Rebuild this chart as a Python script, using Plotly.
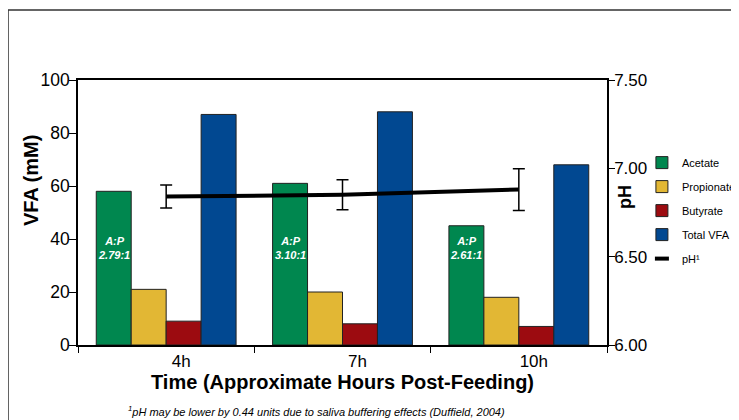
import plotly.graph_objects as go

# ---- data ----
times = ["4h", "7h", "10h"]
acetate = [58, 61, 45]
propionate = [21, 20, 18]
butyrate = [9, 8, 7]
total_vfa = [87, 88, 68]
ph_values = [6.84, 6.85, 6.88]
ph_err = [0.065, 0.085, 0.118]
ap_ratio = ["2.79:1", "3.10:1", "2.61:1"]

series_names = ["Acetate", "Propionate", "Butyrate", "Total VFA"]
series_vals = [acetate, propionate, butyrate, total_vfa]
colors = ["#00874f", "#e2b734", "#9c0b10", "#014891"]

FONT = "Liberation Sans, Arial, Helvetica, sans-serif"
BARGAP = 0.207

fig = go.Figure()
for i, (name, vals, col) in enumerate(zip(series_names, series_vals, colors)):
    fig.add_trace(go.Bar(
        x=times, y=vals, name=name, legendgroup=name,
        marker=dict(color=col, line=dict(color="#222222", width=1)),
        yaxis="y",
    ))

fig.add_trace(go.Scatter(
    x=times, y=ph_values, yaxis="y2", mode="lines",
    line=dict(color="black", width=4),
    error_y=dict(type="data", array=ph_err, color="black", thickness=1.5, width=6),
    showlegend=False, name="pH",
))
# legend proxy for pH (short dash)
fig.add_trace(go.Scatter(
    x=[None], y=[None], yaxis="y2", mode="markers", name="pH¹", legendgroup="ph",
    marker=dict(symbol="line-ew", size=10, line=dict(color="black", width=4)),
))

# A:P annotations inside acetate bars
w = (1 - BARGAP) / 4
for i, r in enumerate(ap_ratio):
    fig.add_annotation(
        x=i - 1.5 * w, y=36.5, xref="x", yref="y",
        text="<b><i>A:P<br>" + r + "</i></b>", showarrow=False,
        font=dict(family=FONT, size=11, color="white"), align="center",
    )

# axis titles
fig.add_annotation(x=-0.09, y=0.62, xref="paper", yref="paper", xanchor="center", yanchor="middle",
                   text="<b>VFA (mM)</b>", textangle=-90, showarrow=False,
                   font=dict(family=FONT, size=20, color="black"))
fig.add_annotation(x=1.034, y=0.558, xref="paper", yref="paper", xanchor="center", yanchor="middle",
                   text="<b>pH</b>", textangle=-90, showarrow=False,
                   font=dict(family=FONT, size=18, color="black"))
fig.add_annotation(x=0.5, y=-0.138, xref="paper", yref="paper", xanchor="center", yanchor="middle",
                   text="<b>Time (Approximate Hours Post-Feeding)</b>", showarrow=False,
                   font=dict(family=FONT, size=20, color="black"))
fig.add_annotation(x=0.0907, y=-0.2505, xref="paper", yref="paper", xanchor="left", yanchor="middle",
                   text="<i><sup>1</sup>pH may be lower by 0.44 units due to saliva buffering effects (Duffield, 2004)</i>",
                   showarrow=False, font=dict(family=FONT, size=11, color="black"))

# outer frame
fig.add_shape(type="rect", xref="paper", yref="paper", x0=-0.1323, y0=-0.6, x1=1.6, y1=1.2645,
              line=dict(color="#333333", width=1.5), fillcolor="rgba(0,0,0,0)", layer="below")

fig.update_layout(
    width=731, height=412,
    margin=dict(l=70, r=132, t=72, b=75, autoexpand=False),
    paper_bgcolor="white", plot_bgcolor="white",
    barmode="group", bargap=BARGAP, bargroupgap=0,
    font=dict(family=FONT, color="black"),
    showlegend=True,
    legend=dict(x=1.066, y=0.743, xanchor="left", yanchor="top",
                font=dict(family=FONT, size=11, color="black"),
                tracegroupgap=5, bgcolor="rgba(0,0,0,0)"),
    xaxis=dict(
        type="category", showline=True, linecolor="black", linewidth=2, mirror=True,
        ticks="outside", tickson="boundaries", ticklen=6, tickcolor="black",
        tickfont=dict(family=FONT, size=17, color="black"), ticklabelshift=15,
        showgrid=False, zeroline=False, automargin=False,
    ),
    yaxis=dict(
        range=[0, 100], dtick=20, showline=True, linecolor="black", linewidth=1.5,
        ticks="outside", ticklen=7, tickcolor="black", ticklabelstandoff=-4,
        tickfont=dict(family=FONT, size=17.5, color="black"),
        showgrid=False, zeroline=False, automargin=False,
    ),
    yaxis2=dict(
        range=[6, 7.5], dtick=0.5, tickformat=".2f", overlaying="y", side="right",
        showline=True, linecolor="black", linewidth=1.5,
        ticks="outside", ticklen=6, tickcolor="black", ticklabelstandoff=-4,
        tickfont=dict(family=FONT, size=17, color="black"),
        showgrid=False, zeroline=False, automargin=False,
    ),
)

fig.write_html("out.html")
